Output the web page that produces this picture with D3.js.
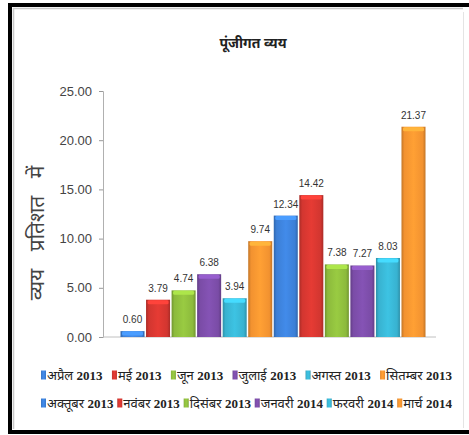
<!DOCTYPE html>
<html>
<head>
<meta charset="utf-8">
<script src="https://cdn.jsdelivr.net/npm/d3@7"></script>
<style>
	body { margin: 0; background: #fff; }
	svg { display: block; }
	.tick text { font-family: "Liberation Sans Narrow", "Arial Narrow", "Liberation Sans", sans-serif; }
</style>
</head>
<body>
<svg id="chart" width="469" height="435"></svg>
<script>

var months = ["अप्रैल 2013", "मई 2013", "जून 2013", "जुलाई 2013", "अगस्त 2013", "सितम्बर 2013",
	"अक्तूबर 2013", "नवंबर 2013", "दिसंबर 2013", "जनवरी 2014", "फरवरी 2014", "मार्च 2014"];
var values = [0.60, 3.79, 4.74, 6.38, 3.94, 9.74, 12.34, 14.42, 7.38, 7.27, 8.03, 21.37];
var yTicks = [0, 5, 10, 15, 20, 25];
var barColors = ["#3c7fd6", "#d23630", "#8cba3c", "#7a4ca6", "#38b2d0", "#f29230"];

var svg = d3.select("#chart");
var devFont = "'Noto Sans Devanagari', 'Noto Serif Devanagari', 'Lohit Devanagari', 'Mangal', sans-serif";

// frame (picture is cropped on the right, so the black border runs off the edge)
svg.append("rect")
	.attr("x", 10).attr("y", 5)
	.attr("width", 480).attr("height", 427)
	.attr("fill", "#fff")
	.attr("stroke", "#000")
	.attr("stroke-width", 4);
svg.append("path")
	.attr("d", "M13.5,429 V8.5 H463")
	.attr("fill", "none")
	.attr("stroke", "#c8c8c8")
	.attr("stroke-width", 1.5);
svg.append("line")
	.attr("x1", 463.5).attr("x2", 463.5)
	.attr("y1", 12).attr("y2", 428)
	.attr("stroke", "#e4e4e4");

// gradients for 3d look
var defs = svg.append("defs");
barColors.forEach(function(c, i) {
	var g = defs.append("linearGradient")
		.attr("id", "grad" + i)
		.attr("x1", "0%").attr("x2", "100%")
		.attr("y1", "0%").attr("y2", "0%");
	g.append("stop").attr("offset", "0%").attr("stop-color", d3.color(c).darker(0.6));
	g.append("stop").attr("offset", "12%").attr("stop-color", c);
	g.append("stop").attr("offset", "50%").attr("stop-color", d3.color(c).brighter(0.25));
	g.append("stop").attr("offset", "88%").attr("stop-color", c);
	g.append("stop").attr("offset", "100%").attr("stop-color", d3.color(c).darker(0.6));
});

var x = d3.scaleBand()
	.domain(months)
	.range([120.5, 425.5])
	.paddingInner(0.06);

var y = d3.scaleLinear()
	.domain([0, 25])
	.range([337, 91]);

// title
svg.append("text")
	.attr("x", 253).attr("y", 48)
	.attr("text-anchor", "middle")
	.attr("font-family", devFont)
	.attr("font-weight", "bold")
	.attr("font-size", "14px")
	.attr("fill", "#222")
	.text("पूंजीगत व्यय");

// y axis
var yAxis = svg.append("g")
	.attr("transform", "translate(103,0)")
	.call(d3.axisLeft(y).tickValues(yTicks).tickFormat(d3.format(".2f")).tickSize(4).tickPadding(7));
yAxis.select(".domain").attr("stroke", "#b0b0b0");
yAxis.selectAll(".tick line").attr("stroke", "#999");
yAxis.selectAll(".tick text").attr("font-size", "13px").attr("fill", "#444");

// baseline
svg.append("line")
	.attr("x1", 103).attr("x2", 436)
	.attr("y1", y(0)).attr("y2", y(0))
	.attr("stroke", "#c0c0c0");

// y title
svg.append("text")
	.attr("transform", "translate(44," + 233 + ") rotate(-90)")
	.attr("text-anchor", "middle")
	.attr("font-family", devFont)
	.attr("font-size", "21px")
	.attr("word-spacing", "12px")
	.attr("fill", "#444")
	.text("व्यय प्रतिशत में");

// bars
var bars = svg.selectAll(".bar")
	.data(values)
	.enter()
	.append("g")
	.attr("class", "bar");

bars.append("rect")
	.attr("x", function(d, i) { return x(months[i]); })
	.attr("y", function(d) { return y(d); })
	.attr("width", x.bandwidth())
	.attr("height", function(d) { return y(0) - y(d); })
	.attr("fill", function(d, i) { return "url(#grad" + (i % 6) + ")"; });

// top cap highlight
bars.append("rect")
	.attr("x", function(d, i) { return x(months[i]) + 1.5; })
	.attr("y", function(d) { return y(d) + 0.5; })
	.attr("width", x.bandwidth() - 3)
	.attr("height", function(d) { return Math.min(4, y(0) - y(d) - 1); })
	.attr("rx", 1.5)
	.attr("fill", function(d, i) { return d3.color(barColors[i % 6]).brighter(0.6); });

bars.append("text")
	.attr("x", function(d, i) { return x(months[i]) + x.bandwidth() / 2; })
	.attr("y", function(d) { return y(d) - 8; })
	.attr("text-anchor", "middle")
	.attr("font-family", "'Liberation Sans Narrow', 'Arial Narrow', sans-serif")
	.attr("font-size", "10px")
	.attr("fill", "#333")
	.text(function(d) { return d.toFixed(2); });

// legend: two rows of six, spread across the width
var legendRows = [months.slice(0, 6), months.slice(6)];
var legendLeft = 41, legendRight = 452;
legendRows.forEach(function(row, r) {
	var ly = 375 + r * 28;
	var items = svg.append("g").attr("class", "legend-row");
	var widths = [];
	row.forEach(function(m, k) {
		var parts = m.split(" ");
		var t = items.append("text")
			.attr("y", ly + 5)
			.attr("font-size", "13px")
			.attr("fill", "#222");
		t.append("tspan")
			.attr("font-family", devFont)
			.text(parts[0] + " ");
		t.append("tspan")
			.attr("font-family", "'Liberation Serif', 'Times New Roman', serif")
			.attr("font-weight", "bold")
			.text(parts[1]);
		widths.push(t.node().getComputedTextLength() + 6);
	});
	var total = d3.sum(widths);
	var gap = (legendRight - legendLeft - total) / (row.length - 1);
	var cx = legendLeft;
	items.selectAll("text").each(function(d, k) {
		var idx = r * 6 + k;
		items.append("rect")
			.attr("x", cx).attr("y", ly - 4.5)
			.attr("width", 5).attr("height", 9)
			.attr("fill", "url(#grad" + (idx % 6) + ")");
		d3.select(this).attr("x", cx + 6);
		cx += widths[k] + gap;
	});
});

</script>
</body>
</html>
